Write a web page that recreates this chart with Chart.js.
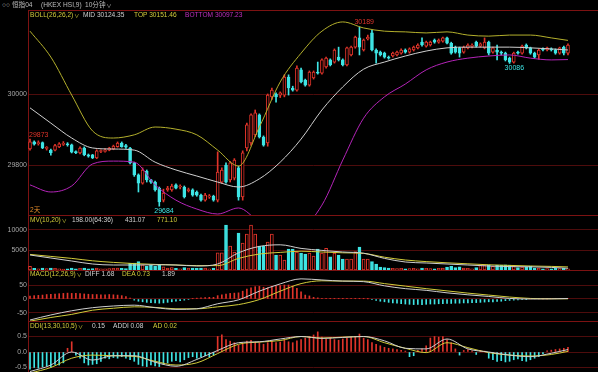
<!DOCTYPE html>
<html>
<head>
<meta charset="utf-8">
<script src="https://cdn.jsdelivr.net/npm/chart.js@4.4.1/dist/chart.umd.min.js"></script>
<style>
  body { margin: 0; background: #000; width: 598px; height: 372px; overflow: hidden; position: relative;
         font-family: "Liberation Sans", "Noto Sans CJK SC", sans-serif; }
  canvas { position: absolute; left: 0; }
  .t { position: absolute; font-size: 6.6px; line-height: 1; white-space: nowrap; }
  .v { font-size: 5px; margin-left: 1px; }
</style>
</head>
<body>
<canvas id="cMain" width="598" height="205" style="top:10px"></canvas>
<canvas id="cVol" width="598" height="55" style="top:215px"></canvas>
<canvas id="cMacd" width="598" height="51" style="top:270px"></canvas>
<canvas id="cDdi" width="598" height="51" style="top:321px"></canvas>

<span class="t" style="left:2px;top:1.5px;color:#bdbdbd">○○</span>
<span class="t" style="left:12px;top:1.5px;color:#bdbdbd">恒指04</span>
<span class="t" style="left:41px;top:1.5px;color:#bdbdbd">(HKEX HSI,9)</span>
<span class="t" style="left:85px;top:1.5px;color:#bdbdbd">10分钟<span class="v">∨</span></span>

<span class="t" style="left:30px;top:11.5px;color:#d2cc3a">BOLL(26,26,2)<span class="v">∨</span></span>
<span class="t" style="left:83px;top:11.5px;color:#d0d0d0">MID 30124.35</span>
<span class="t" style="left:134px;top:11.5px;color:#d2cc3a">TOP 30151.46</span>
<span class="t" style="left:185px;top:11.5px;color:#c030c0">BOTTOM 30097.23</span>
<span class="t" style="left:30px;top:206.5px;color:#e08a2a">2天</span>

<span class="t" style="left:30px;top:216.5px;color:#d2cc3a">MV(10,20)<span class="v">∨</span></span>
<span class="t" style="left:72px;top:216.5px;color:#d0d0d0">198.00(64:36)</span>
<span class="t" style="left:125px;top:216.5px;color:#d0d0d0">431.07</span>
<span class="t" style="left:157px;top:216.5px;color:#d2cc3a">771.10</span>

<span class="t" style="left:30px;top:270.5px;color:#d2cc3a">MACD(12,26,9)<span class="v">∨</span></span>
<span class="t" style="left:85px;top:270.5px;color:#d0d0d0">DIFF 1.68</span>
<span class="t" style="left:122px;top:270.5px;color:#d2cc3a">DEA 0.73</span>
<span class="t" style="left:162px;top:270.5px;color:#d0d0d0">1.89</span>

<span class="t" style="left:30px;top:323px;color:#d2cc3a">DDI(13,30,10,5)<span class="v">∨</span></span>
<span class="t" style="left:92px;top:323px;color:#d0d0d0">0.15</span>
<span class="t" style="left:113px;top:323px;color:#d0d0d0">ADDI 0.08</span>
<span class="t" style="left:153px;top:323px;color:#d2cc3a">AD 0.02</span>

<script>
// candles, one per 10-minute bar
const opens = [29845,29865,29860,29863,29847,29842,29842,29851,29858,29860,29857,29838,29834,29848,29829,29829,29820,29838,29838,29842,
  29845,29852,29862,29855,29848,29806,29772,29749,29782,29758,29752,29735,29701,29730,29730,29744,29738,29738,29728,29730,
  29724,29715,29701,29710,29712,29701,29752,29800,29758,29763,29792,29710,29848,29862,29885,29941,29879,29862,29992,30000,
  29997,29997,30048,30017,30011,30068,30039,30025,30045,30062,30059,30076,30096,30090,30104,30096,30082,30110,30132,30158,
  30124,30155,30172,30124,30118,30115,30104,30107,30110,30115,30124,30118,30124,30130,30146,30135,30138,30152,30146,30149,
  30158,30143,30132,30130,30118,30130,30134,30146,30135,30130,30146,30118,30124,30118,30115,30101,30090,30118,30115,30138,
  30130,30115,30110,30127,30124,30127,30124,30115,30132,30115];
const highs = [29873,29868,29868,29865,29852,29845,29858,29863,29866,29863,29859,29840,29851,29851,29831,29830,29843,29843,29846,29850,
  29856,29865,29865,29858,29850,29808,29775,29792,29786,29760,29755,29738,29732,29740,29746,29747,29744,29741,29735,29733,
  29727,29718,29720,29717,29715,29837,29792,29806,29810,29818,29797,29840,29918,29944,29955,29944,29882,30000,30017,30003,
  30006,30054,30054,30022,30079,30073,30042,30065,30065,30090,30099,30104,30099,30127,30132,30099,30132,30135,30163,30189,
  30155,30166,30180,30127,30121,30118,30107,30118,30121,30127,30127,30130,30135,30141,30158,30149,30149,30155,30155,30160,
  30160,30146,30135,30132,30135,30141,30141,30149,30144,30158,30149,30132,30138,30121,30118,30104,30118,30121,30138,30141,
  30132,30118,30127,30130,30132,30130,30127,30132,30135,30141];
const lows = [29842,29856,29856,29846,29842,29828,29840,29849,29855,29853,29834,29832,29831,29826,29822,29818,29818,29835,29836,29840,
  29843,29850,29850,29847,29803,29768,29724,29746,29752,29748,29726,29684,29696,29726,29726,29733,29733,29707,29724,29712,
  29712,29698,29698,29706,29698,29696,29749,29749,29752,29758,29701,29701,29840,29855,29880,29876,29853,29853,29985,29977,
  29990,29992,29997,30008,30008,30031,30022,30022,30042,30056,30056,30073,30079,30087,30093,30079,30079,30107,30129,30110,
  30121,30152,30121,30087,30107,30101,30098,30104,30107,30112,30115,30115,30121,30127,30135,30132,30135,30143,30143,30146,
  30141,30112,30115,30104,30115,30127,30130,30132,30132,30127,30110,30115,30096,30110,30093,30086,30087,30112,30112,30127,
  30112,30101,30098,30121,30121,30121,30112,30112,30110,30110];
const closes = [29865,29859,29863,29848,29849,29835,29855,29860,29861,29857,29836,29835,29848,29829,29825,29820,29840,29840,29842,29848,
  29853,29862,29852,29850,29806,29772,29749,29786,29758,29752,29730,29696,29721,29735,29741,29735,29739,29710,29731,29715,
  29715,29701,29715,29713,29701,29780,29786,29752,29806,29814,29710,29834,29913,29941,29947,29879,29856,29997,30011,29992,
  30003,30048,30017,30011,30073,30034,30025,30062,30062,30059,30096,30101,30082,30124,30096,30082,30130,30132,30160,30132,
  30152,30160,30124,30115,30110,30104,30101,30115,30118,30124,30118,30127,30132,30138,30138,30146,30146,30146,30152,30158,
  30143,30115,30118,30115,30132,30138,30136,30135,30141,30146,30115,30130,30118,30115,30096,30090,30115,30115,30135,30130,
  30115,30104,30124,30124,30130,30124,30115,30130,30115,30138];
const volumes = [900,400,300,500,350,450,400,300,250,300,500,300,400,450,300,350,500,300,300,350,
  400,450,400,350,1650,1750,2100,1300,900,1200,1000,1300,800,500,600,400,300,600,400,500,
  400,500,450,300,500,4300,4300,11250,6000,4500,9200,6700,9000,11250,9000,6000,6000,7000,9000,3750,
  3750,2500,5200,5200,4500,4200,4000,4200,3500,5250,4200,5400,3300,4200,3750,2750,2750,2750,4600,5750,
  2750,2750,2100,1500,700,600,500,400,350,400,300,350,400,300,500,400,350,300,400,450,
  700,900,600,800,500,400,300,600,1200,1250,1300,900,1250,1200,1300,1250,1000,600,700,800,
  1000,500,450,300,350,300,400,350,400,300];
const macdBars = [10,12,13,14,16,17,18,19,20,21,20,20,19,18,17,16,16,15,15,16,15,14,12,9,3,
  -4,-8,-10,-12,-13,-14,-15,-14,-12,-10,-8,-6,-4,-2,1,3,4,5,6,6,
  12,15,18,20,21,22,28,35,40,44,45,42,40,44,47,48,50,50,46,38,26,14,11,6,4,2,
  1,1,1,1,1,1,1,1,1,1,0.5,
  -2,-5,-8,-10,-12,-14,-15,-17,-18,-19,-20,-19,-20,-19,-18,-18,-17,-17,-16,-16,
  -15,-15,-14,-14,-13,-13,-12,-11,-10,-10,-9,-8,-6,-5,-4,-3,-2,-1,
  0.5,0.5,0.5,0.6,0.6,0.8,1,1.2,1.5,1.89];
const ddiBars = [-0.55,-0.5,-0.52,-0.48,-0.45,-0.5,-0.4,-0.42,-0.35,0.12,0.33,-0.1,-0.2,
  -0.35,-0.42,-0.4,-0.38,-0.3,-0.2,-0.22,-0.18,-0.2,-0.15,-0.2,-0.25,
  -0.3,-0.4,-0.45,-0.47,-0.42,-0.45,-0.47,-0.4,-0.35,-0.3,-0.28,-0.32,-0.25,
  -0.18,-0.15,-0.2,-0.15,-0.12,-0.15,-0.1,
  0.5,0.55,0.4,0.35,0.3,0.22,0.28,0.35,0.38,0.32,0.3,0.25,0.3,0.35,0.3,0.32,0.38,0.33,0.3,0.36,
  0.4,0.45,0.5,0.55,0.65,0.48,0.42,0.45,0.4,0.38,0.42,0.45,0.48,0.5,0.58,0.45,0.4,
  0.3,0.25,0.2,0.15,0.12,0.1,0.08,0.05,0.03,-0.15,-0.12,0.05,0.1,0.2,
  0.45,0.5,0.48,0.5,0.4,0.3,0.1,-0.1,0.05,0.08,0.04,-0.08,0.05,0.03,
  -0.2,-0.25,-0.3,-0.28,-0.32,-0.3,-0.25,-0.22,-0.28,-0.3,-0.25,-0.2,-0.15,
  -0.05,0.04,0.06,0.08,0.1,0.12,0.15];

// indicator lines, read every 5 bars
const lineIdx = [0,5,10,15,20,25,30,35,40,45,50,55,60,65,70,75,80,85,90,95,100,105,110,115,120,125,129];
const bollTop = [30177,30104,29997,29896,29876,29885,29907,29901,29885,29842,29797,29907,30034,30115,30177,30203,30186,30177,30175,30172,30175,30166,30163,30166,30166,30158,30151];
const bollMid = [29961,29918,29876,29848,29845,29842,29808,29786,29769,29752,29738,29761,29808,29873,29955,30020,30070,30090,30107,30121,30130,30132,30132,30132,30130,30127,30124];
const bollBot = [29744,29724,29741,29803,29811,29808,29744,29701,29676,29662,29679,29640,29617,29623,29687,29814,29932,29992,30028,30068,30090,30101,30107,30110,30101,30096,30097];
const mv10 = [3750,3000,2250,1500,1250,1250,1300,1250,1000,1500,4300,5900,6300,5400,4900,4500,4200,2900,2000,1750,1500,1250,1000,850,800,650,431];
const mv20 = [3900,3400,2900,2300,1900,1600,1400,1250,1100,1100,2900,4000,4400,4700,4500,4300,4150,3200,2500,2100,1800,1550,1300,1150,1000,900,771];
const diff = [-75,-57,-42,-31,-25,-22,-31,-37,-35,-17,-3,28,54,72,68,64,62,47,37,31,22,15,9,2,0,0.5,1.68];
const dea = [-79,-66,-55,-40,-33,-28,-30,-35,-35,-28,-20,-2,28,55,65,64,64,55,46,37,29,21,14,7,2,0.8,0.73];
const addi = [-0.63,-0.42,0,-0.26,-0.12,-0.12,-0.33,-0.46,-0.24,0.05,0.3,0.33,0.42,0.5,0.44,0.47,0.5,0.36,0.12,0.1,0.42,0.1,0,-0.1,-0.15,-0.04,0.08];
const ad = [-0.68,-0.5,-0.2,-0.1,-0.12,-0.14,-0.3,-0.42,-0.35,-0.05,0.25,0.32,0.37,0.5,0.45,0.48,0.5,0.3,0.12,-0.02,0.3,0.14,-0.02,-0.1,-0.13,-0.08,0.02];

// marked extremes
const markIdx = [0, 31, 79, 115];
const markVal = [29873, 29684, 30189, 30086];
const markHigh = [true, false, true, false];

const RED = '#e0342a', CYAN = '#3ee4e4', WHITE = '#cfcfcf', YELLOW = '#d2cc3a', MAGENTA = '#b424b8';
const GRID = '#4e0c0c', FRAME = '#7c1212';
const FONT = '"Liberation Sans", "Noto Sans CJK SC", sans-serif';

const idx = opens.map((_, i) => i);
const up = i => closes[i] >= opens[i];
const pts = vals => vals.map((v, k) => ({ x: lineIdx[k], y: v }));

function line(vals, color) {
  return { type: 'line', data: pts(vals), borderColor: color, borderWidth: 1, pointRadius: 0,
           cubicInterpolationMode: 'monotone', order: 1 };
}

function yAxis(min, max, ticks, fmt) {
  return {
    min: min, max: max,
    afterBuildTicks: s => { s.ticks = ticks.map(v => ({ value: v })); },
    afterFit: s => { s.width = 28; s.paddingTop = 0; s.paddingBottom = 0; },
    grid: { color: GRID, drawTicks: false },
    border: { color: FRAME },
    ticks: { color: '#a6a6a6', font: { family: FONT, size: 7 }, padding: 1, callback: fmt || (v => String(v)) }
  };
}

const topLine = {
  id: 'topLine',
  afterDraw(c) {
    const ctx = c.ctx;
    ctx.save();
    ctx.strokeStyle = FRAME;
    ctx.lineWidth = 1;
    ctx.beginPath();
    ctx.moveTo(c.chartArea.left, c.chartArea.top + 0.5);
    ctx.lineTo(c.chartArea.right, c.chartArea.top + 0.5);
    ctx.stroke();
    ctx.restore();
  }
};

function opts(y) {
  return {
    responsive: false, animation: false, events: [],
    layout: { padding: 0 },
    plugins: { legend: { display: false }, tooltip: { enabled: false } },
    scales: { x: { type: 'linear', min: -0.48, max: 136.2, offset: false, display: false }, y: y }
  };
}

// main: candles + BOLL
new Chart(document.getElementById('cMain'), {
  type: 'bar',
  data: {
    datasets: [
      { data: idx.map(i => ({ x: i, y: [lows[i], highs[i]] })), backgroundColor: idx.map(i => up(i) ? RED : CYAN),
        barThickness: 1, grouped: false, order: 3 },
      { data: idx.map(i => ({ x: i, y: [opens[i], closes[i]] })), backgroundColor: idx.map(i => up(i) ? '#000' : CYAN),
        borderColor: idx.map(i => up(i) ? RED : CYAN), borderWidth: 1, borderSkipped: false,
        barThickness: 3, minBarLength: 1, grouped: false, order: 2 },
      line(bollMid, WHITE), line(bollTop, '#b4b02c'), line(bollBot, MAGENTA)
    ]
  },
  options: opts(yAxis(29659.2, 30236.6, [29800, 30000])),
  plugins: [topLine, {
    id: 'marks',
    afterDatasetsDraw(c) {
      const ctx = c.ctx, xs = c.scales.x, ys = c.scales.y;
      ctx.save();
      ctx.font = '7px ' + FONT;
      ctx.textAlign = 'left';
      markIdx.forEach((i, k) => {
        const x = Math.max(xs.getPixelForValue(i) - 5, c.chartArea.left + 1);
        const y = ys.getPixelForValue(markVal[k]);
        ctx.fillStyle = markHigh[k] ? RED : CYAN;
        ctx.textBaseline = markHigh[k] ? 'bottom' : 'top';
        ctx.fillText(String(markVal[k]), x, markHigh[k] ? y - 1 : y + 1);
      });
      ctx.restore();
    }
  }]
});

// volume + MV
new Chart(document.getElementById('cVol'), {
  type: 'bar',
  data: {
    datasets: [
      { data: idx.map(i => ({ x: i, y: volumes[i] })), backgroundColor: idx.map(i => up(i) ? '#000' : CYAN),
        borderColor: idx.map(i => up(i) ? RED : CYAN), borderWidth: 1, borderSkipped: false,
        barThickness: 3, grouped: false, order: 2 },
      line(mv10, WHITE), line(mv20, YELLOW)
    ]
  },
  options: opts(yAxis(0, 13750, [5000, 10000])),
  plugins: [topLine]
});

// MACD
new Chart(document.getElementById('cMacd'), {
  type: 'bar',
  data: {
    datasets: [
      { data: idx.map(i => ({ x: i, y: macdBars[i] })), backgroundColor: idx.map(i => macdBars[i] >= 0 ? RED : CYAN),
        barThickness: 1, grouped: false, order: 2 },
      line(diff, WHITE), line(dea, YELLOW)
    ]
  },
  options: opts(yAxis(-78.6, 103.6, [-50, 0, 50])),
  plugins: [topLine]
});

// DDI
new Chart(document.getElementById('cDdi'), {
  type: 'bar',
  data: {
    datasets: [
      { data: idx.map(i => ({ x: i, y: ddiBars[i] })), backgroundColor: idx.map(i => ddiBars[i] >= 0 ? RED : CYAN),
        barThickness: 1, grouped: false, order: 2 },
      line(addi, WHITE), line(ad, YELLOW)
    ]
  },
  options: opts(yAxis(-0.645, 1.0, [-0.5, 0, 0.5], v => v.toFixed(1))),
  plugins: [topLine]
});
</script>
</body>
</html>
